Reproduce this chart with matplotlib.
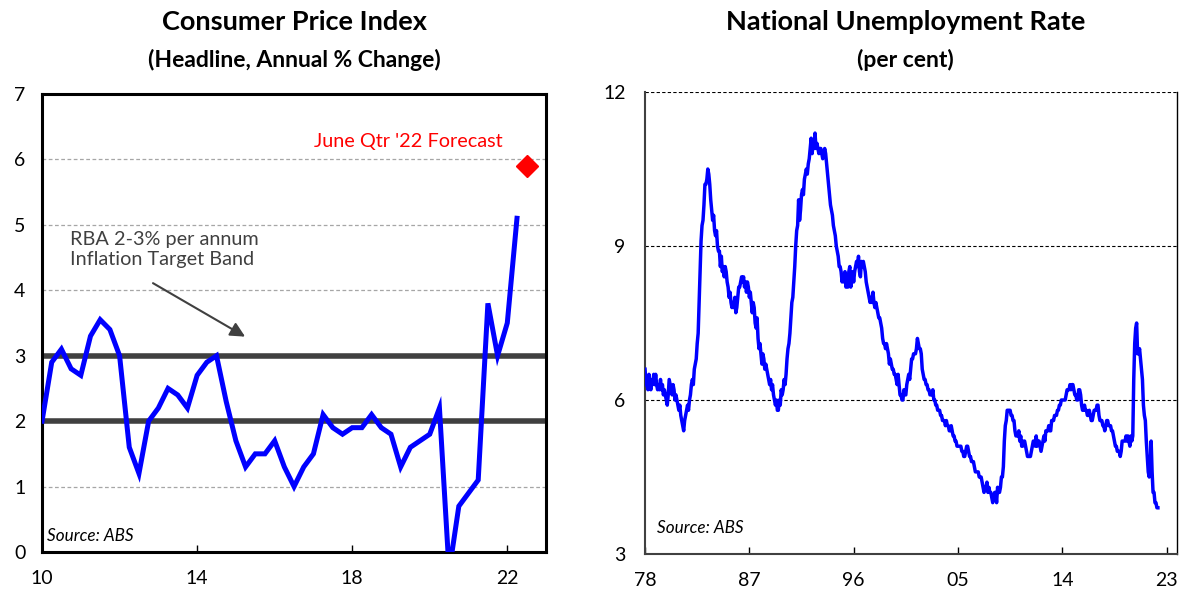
import numpy as np
import matplotlib.pyplot as plt

plt.rcParams['font.family'] = ['Lato', 'DejaVu Sans']

# ---- CPI, headline annual % change, quarterly Dec-2009 .. Mar-2022 ----
cpi_start = (2009, 12)
cpi = [2.0, 2.9, 3.1, 2.8, 2.7, 3.3, 3.55, 3.4, 3.0, 1.6, 1.2, 2.0, 2.2,
       2.5, 2.4, 2.2, 2.7, 2.9, 3.0, 2.3, 1.7, 1.3, 1.5, 1.5, 1.7, 1.3,
       1.0, 1.3, 1.5, 2.1, 1.9, 1.8, 1.9, 1.9, 2.1, 1.9, 1.8, 1.3, 1.6,
       1.7, 1.8, 2.2, -0.3, 0.7, 0.9, 1.1, 3.8, 3.0, 3.5, 5.1]
forecast_date = 2022.5
forecast = 5.9

# ---- unemployment rate, monthly from Feb-1978 ----
unemp = {
    1978: [6.6, 6.3, 6.3, 6.2, 6.5, 6.3, 6.2, 6.4, 6.3, 6.5, 6.3],
    1979: [6.5, 6.3, 6.2, 6.3, 6.2, 6.4, 6.2, 6.3, 6.1, 6.2, 6.1, 6.0],
    1980: [5.9, 6.1, 6.4, 6.3, 6.2, 6.1, 6.3, 6.2, 6.0, 6.1, 6.0, 5.9],
    1981: [5.8, 5.9, 5.7, 5.6, 5.5, 5.4, 5.6, 5.7, 5.8, 5.9, 5.8, 6.0],
    1982: [6.1, 6.3, 6.4, 6.3, 6.6, 6.7, 6.8, 7.1, 7.3, 7.9, 8.5, 9.1],
    1983: [9.4, 9.5, 9.8, 10.2, 10.2, 10.3, 10.5, 10.4, 10.2, 9.9, 9.7, 9.5],
    1984: [9.6, 9.3, 9.2, 9.3, 9.0, 8.9, 8.9, 8.6, 8.8, 8.5, 8.6, 8.4],
    1985: [8.6, 8.5, 8.3, 8.2, 8.0, 8.1, 7.9, 7.8, 7.9, 7.8, 8.0, 7.7],
    1986: [7.8, 8.0, 8.2, 8.2, 8.3, 8.4, 8.3, 8.4, 8.2, 8.3, 8.1, 8.3],
    1987: [8.2, 8.0, 8.1, 7.9, 7.7, 7.9, 7.8, 7.5, 7.4, 7.6, 7.2, 7.0],
    1988: [7.1, 6.9, 6.7, 6.9, 6.8, 6.6, 6.7, 6.6, 6.5, 6.4, 6.3, 6.4],
    1989: [6.2, 6.3, 6.1, 6.0, 5.9, 6.0, 5.8, 5.8, 6.0, 5.9, 6.2, 6.1],
    1990: [6.2, 6.4, 6.3, 6.5, 6.8, 7.0, 7.1, 7.3, 7.6, 7.9, 8.0, 8.3],
    1991: [8.6, 9.0, 9.3, 9.4, 9.9, 9.5, 9.7, 10.0, 10.1, 10.0, 10.3, 10.4],
    1992: [10.5, 10.4, 10.6, 10.7, 10.9, 11.1, 10.8, 11.0, 10.9, 11.2, 10.9, 11.0],
    1993: [10.9, 10.8, 10.9, 10.9, 10.8, 10.7, 10.8, 10.9, 10.8, 10.6, 10.4, 10.2],
    1994: [10.0, 9.8, 9.7, 9.6, 9.4, 9.3, 9.2, 9.0, 8.9, 8.8, 8.6, 8.6],
    1995: [8.5, 8.3, 8.4, 8.3, 8.5, 8.2, 8.4, 8.2, 8.5, 8.6, 8.2, 8.4],
    1996: [8.5, 8.3, 8.5, 8.6, 8.7, 8.6, 8.8, 8.5, 8.4, 8.7, 8.6, 8.7],
    1997: [8.6, 8.5, 8.3, 8.2, 8.1, 8.0, 7.9, 8.0, 7.9, 8.1, 7.9, 7.8],
    1998: [7.9, 7.8, 7.7, 7.6, 7.6, 7.5, 7.4, 7.2, 7.1, 7.1, 7.0, 7.1],
    1999: [7.0, 6.9, 6.7, 6.8, 6.7, 6.6, 6.6, 6.5, 6.5, 6.4, 6.3, 6.5],
    2000: [6.3, 6.1, 6.1, 6.0, 6.0, 6.2, 6.1, 6.1, 6.3, 6.4, 6.5, 6.4],
    2001: [6.6, 6.8, 6.8, 6.9, 6.9, 6.9, 7.0, 7.2, 7.1, 7.0, 7.0, 6.9],
    2002: [6.6, 6.5, 6.4, 6.4, 6.3, 6.3, 6.2, 6.2, 6.1, 6.1, 6.1, 6.2],
    2003: [6.0, 6.0, 5.9, 5.9, 5.8, 5.8, 5.8, 5.7, 5.7, 5.6, 5.6, 5.6],
    2004: [5.5, 5.6, 5.5, 5.5, 5.4, 5.4, 5.5, 5.4, 5.3, 5.3, 5.2, 5.2],
    2005: [5.1, 5.1, 5.1, 5.1, 5.1, 5.0, 5.0, 4.9, 4.9, 5.0, 5.1, 5.1],
    2006: [5.0, 4.9, 4.9, 4.8, 4.8, 4.8, 4.7, 4.6, 4.6, 4.6, 4.6, 4.5],
    2007: [4.5, 4.5, 4.4, 4.3, 4.2, 4.3, 4.3, 4.4, 4.2, 4.3, 4.2, 4.2],
    2008: [4.1, 4.0, 4.1, 4.2, 4.2, 4.0, 4.3, 4.2, 4.2, 4.3, 4.5, 4.5],
    2009: [4.7, 5.2, 5.5, 5.6, 5.8, 5.8, 5.8, 5.8, 5.7, 5.7, 5.6, 5.6],
    2010: [5.4, 5.3, 5.3, 5.3, 5.4, 5.2, 5.3, 5.1, 5.1, 5.2, 5.2, 5.1],
    2011: [5.0, 4.9, 4.9, 4.9, 4.9, 5.0, 5.1, 5.2, 5.2, 5.1, 5.3, 5.1],
    2012: [5.2, 5.2, 5.1, 5.0, 5.1, 5.2, 5.3, 5.2, 5.4, 5.4, 5.4, 5.5],
    2013: [5.4, 5.4, 5.6, 5.6, 5.6, 5.7, 5.7, 5.7, 5.8, 5.8, 5.9, 5.9],
    2014: [6.0, 6.0, 6.0, 6.0, 6.0, 6.1, 6.2, 6.2, 6.2, 6.3, 6.2, 6.3],
    2015: [6.3, 6.2, 6.1, 6.1, 6.0, 6.0, 6.2, 6.2, 6.1, 5.9, 5.8, 5.8],
    2016: [5.9, 5.8, 5.8, 5.7, 5.7, 5.8, 5.7, 5.6, 5.6, 5.7, 5.8, 5.8],
    2017: [5.8, 5.9, 5.9, 5.7, 5.6, 5.6, 5.6, 5.5, 5.5, 5.4, 5.5, 5.6],
    2018: [5.6, 5.5, 5.5, 5.5, 5.4, 5.4, 5.3, 5.2, 5.1, 5.1, 5.0, 5.0],
    2019: [5.0, 4.9, 5.0, 5.2, 5.2, 5.2, 5.2, 5.3, 5.2, 5.3, 5.2, 5.1],
    2020: [5.3, 5.2, 5.3, 6.4, 7.1, 7.4, 7.5, 6.9, 6.9, 7.0, 6.8, 6.6],
    2021: [6.4, 5.9, 5.7, 5.6, 5.2, 4.9, 4.6, 4.5, 4.6, 5.2, 4.6, 4.2],
    2022: [4.2, 4.0, 4.0, 3.9, 3.9],
}

cpi_ticks = [2010, 2014, 2018, 2022]
cpi_ticklabels = ['10', '14', '18', '22']
ur_ticks = [1978, 1987, 1996, 2005, 2014, 2023]
ur_ticklabels = ['78', '87', '96', '05', '14', '23']

# quarter-end dates as decimal years (Dec-2009 -> 2010.0)
cpi_x = cpi_start[0] + cpi_start[1] / 12 + 0.25 * np.arange(len(cpi))

ur_x, ur_y = [], []
for yr, vals in unemp.items():
    first = 2 if yr == 1978 else 1
    for i, v in enumerate(vals):
        ur_x.append(yr + (first + i - 2) / 12)
        ur_y.append(v)

fig = plt.figure(figsize=(11.84, 5.91), dpi=100)

# ---------------- left: CPI ----------------
ax1 = fig.add_axes([0.0355, 0.066, 0.4257, 0.775])
ax1.set_xlim(2010, 2023)
ax1.set_ylim(0, 7)
for g in [1, 4, 5, 6]:
    ax1.axhline(g, color='#a6a6a6', lw=0.9, ls=(0, (3, 2)), zorder=1)
ax1.axhline(2, color='#404040', lw=4, zorder=2)
ax1.axhline(3, color='#404040', lw=4, zorder=2)
ax1.plot(cpi_x, cpi, color='#0000ff', lw=3.6, zorder=3, solid_joinstyle='miter')
ax1.plot([forecast_date], [forecast], marker='D', color='#ff0000', ms=11, ls='none', zorder=4)

ax1.text(2019.45, 6.27, "June Qtr '22 Forecast", color='#ff0000', fontsize=14.3,
         ha='center', va='center')
ax1.text(2010.72, 4.9, 'RBA 2-3% per annum\nInflation Target Band', color='#404040',
         fontsize=14.3, ha='left', va='top', linespacing=1.2)
ax1.annotate('', xy=(2015.3, 3.27), xytext=(2012.8, 4.13),
             arrowprops=dict(arrowstyle='-|>', color='#404040', lw=1.5, mutation_scale=22))
ax1.text(2010.13, 0.12, 'Source: ABS', fontsize=12.3, style='italic', ha='left', va='bottom')

ax1.set_xticks(cpi_ticks)
ax1.set_xticklabels(cpi_ticklabels)
ax1.set_yticks(range(8))
ax1.tick_params(axis='x', direction='in', length=5, width=1, labelsize=14, pad=13)
ax1.tick_params(axis='y', length=0, labelsize=14, pad=12)
for s in ax1.spines.values():
    s.set_linewidth(2.2)
    s.set_color('black')

fig.text(0.249, 0.962, 'Consumer Price Index', fontsize=19.5, fontweight='bold',
         ha='center', va='center')
fig.text(0.249, 0.898, '(Headline, Annual % Change)', fontsize=16.5, fontweight='bold',
         ha='center', va='center')

# ---------------- right: unemployment ----------------
ax2 = fig.add_axes([0.5448, 0.0626, 0.4493, 0.7817])
ax2.set_xlim(1978, 2023.9)
ax2.set_ylim(3, 12)
for g in [6, 9, 12]:
    ax2.axhline(g, color='black', lw=0.8, ls=(0, (3, 2)), zorder=1)
ax2.plot(ur_x, ur_y, color='#0000ff', lw=2.5, zorder=3)
ax2.text(1979.0, 3.35, 'Source: ABS', fontsize=12.3, style='italic', ha='left', va='bottom')

ax2.set_xticks(ur_ticks)
ax2.set_xticklabels(ur_ticklabels)
ax2.set_yticks([3, 6, 9, 12])
ax2.tick_params(axis='x', direction='in', length=5, width=1, labelsize=14, pad=13)
ax2.tick_params(axis='y', length=0, labelsize=14, pad=14)
ax2.spines['top'].set_visible(False)
ax2.spines['left'].set_color('#404040')
ax2.spines['left'].set_linewidth(1.5)
ax2.spines['bottom'].set_color('#404040')
ax2.spines['bottom'].set_linewidth(1.5)
ax2.spines['right'].set_linewidth(1.0)

fig.text(0.765, 0.962, 'National Unemployment Rate', fontsize=19.5, fontweight='bold',
         ha='center', va='center')
fig.text(0.765, 0.898, '(per cent)', fontsize=16.5, fontweight='bold',
         ha='center', va='center')

fig.savefig('out.png', dpi=100)
